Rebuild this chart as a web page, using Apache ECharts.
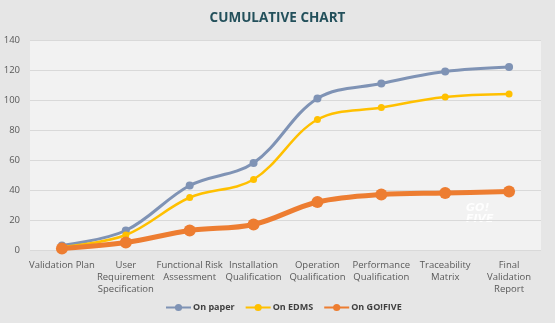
<!DOCTYPE html>
<html><head><meta charset="utf-8">
<script src="https://cdn.jsdelivr.net/npm/echarts@6/dist/echarts.min.js"></script>
<style>html,body{margin:0;padding:0;background:#e6e6e6;}#c{width:555px;height:323px;}</style>
</head><body><div id="c"></div>
<script>
const categories = ['Validation Plan','User Requirement Specification','Functional Risk Assessment','Installation Qualification','Operation Qualification','Performance Qualification','Traceability Matrix','Final Validation Report'];
const tickLabels = ['Validation Plan','User\nRequirement\nSpecification','Functional Risk\nAssessment','Installation\nQualification','Operation\nQualification','Performance\nQualification','Traceability\nMatrix','Final\nValidation\nReport'];
const onPaper = [3, 13, 43, 58, 101, 111, 119, 122];
const onEDMS = [2, 10, 35, 47, 87, 95, 102, 104];
const onGoFive = [1, 5, 13, 17, 32, 37, 38, 39];
const seriesNames = ['On paper','On EDMS','On GO!FIVE'];

const chart = echarts.init(document.getElementById('c'));
chart.setOption({
  backgroundColor: '#e6e6e6',
  animation: false,
  title: {text: 'CUMULATIVE CHART', left: 'center', top: 6,
    textStyle: {color: '#23505b', fontSize: 13.5, fontWeight: 'bold', fontFamily: 'Open Sans'}},
  grid: {left: 30, right: 14, top: 40, bottom: 73, show: true, backgroundColor: '#f2f2f2', borderWidth: 0},
  legend: {bottom: 6, left: 160, itemGap: 10, itemWidth: 25, itemHeight: 9,
    textStyle: {color: '#404040', fontSize: 9, fontWeight: 'bold', fontFamily: 'Open Sans', padding: [0, 0, 0, -3]},
    data: seriesNames},
  xAxis: {type: 'category', data: categories, boundaryGap: true,
    axisLine: {show: false}, axisTick: {show: false},
    axisLabel: {interval: 0, color: '#595959', fontSize: 9.5, fontFamily: 'Open Sans', lineHeight: 12, margin: 9,
      formatter: (v, i) => tickLabels[i]}},
  yAxis: {type: 'value', min: 0, max: 140, interval: 20,
    axisLine: {show: false}, axisTick: {show: false},
    axisLabel: {color: '#595959', fontSize: 9.5, fontFamily: 'Open Sans', margin: 10},
    splitLine: {lineStyle: {color: '#d9d9d9', width: 1}}},
  graphic: [{type: 'text', left: 466, top: 203,
    style: {text: 'GO!\nFIVE', fill: '#ffffff', font: 'italic bold 11px "DejaVu Sans"', lineHeight: 11, opacity: 0.9}}],
  series: [
    {name: seriesNames[0], type: 'line', data: onPaper, smooth: 0.35, color: '#7f93b5',
      lineStyle: {width: 3}, symbol: 'circle', symbolSize: 8, z: 3},
    {name: seriesNames[1], type: 'line', data: onEDMS, smooth: 0.35, color: '#ffc000',
      lineStyle: {width: 2.5}, symbol: 'circle', symbolSize: 7, z: 4},
    {name: seriesNames[2], type: 'line', data: onGoFive, smooth: 0.35, color: '#ed7d31',
      lineStyle: {width: 5}, symbol: 'circle', symbolSize: 12, z: 5}
  ]
});
</script></body></html>
